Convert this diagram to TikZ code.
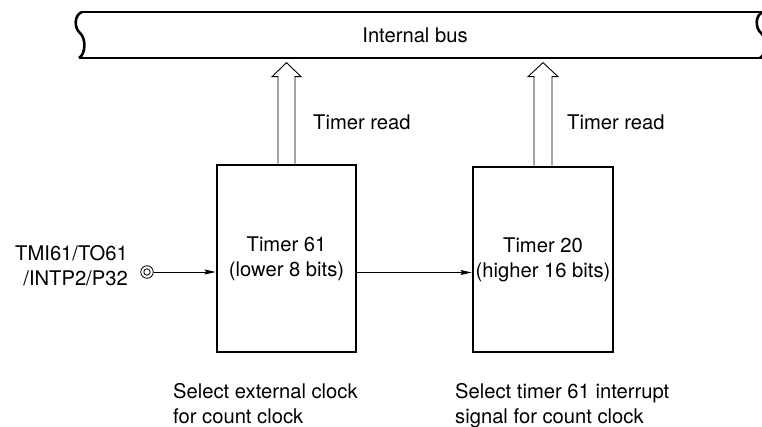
\documentclass[tikz,border=0pt]{standalone}
\usepackage{fontspec}
\setmainfont{TeX Gyre Heros}
\usetikzlibrary{arrows.meta,positioning}

\tikzset{
  lbl/.style={font=\fontsize{20.2}{25}\selectfont, inner sep=0pt},
  timerbox/.style={draw, line width=2.7pt, minimum width=139pt, align=center, lbl},
  hollow/.style={draw, line width=0.9pt, line join=miter},
  sig/.style={line width=0.9pt, -{Stealth[length=11pt, width=5pt, inset=1.5pt]}},
}

\begin{document}
\begin{tikzpicture}[x=1pt, y=-1pt]
        \useasboundingbox (0,0) rectangle (762,427);

        % Internal bus
        \draw[line width=2.6pt] (82,12) -- (775,12);
        \draw[line width=2.6pt] (79,58) -- (775,58);
        \draw[line width=2.6pt] (82,12) .. controls (74,15) and (74,28) .. (80,33)
            .. controls (86,38) and (86,54) .. (79,58);
        \draw[line width=2.6pt] (763,12) .. controls (755,15) and (755,28) .. (761,33)
            .. controls (767,38) and (767,54) .. (760,58);
        \node[lbl] (bus) at (415,35) {Internal bus};

        % Timers
        \node[timerbox, minimum height=187pt] (t61) at (286.5,258.5) {Timer 61\\(lower 8 bits)};
        \node[timerbox, minimum height=185pt, minimum width=140pt] (t20) at (543,259.5) {Timer 20\\(higher 16 bits)};

        % Timer read
        \draw[hollow] ([xshift=-8.5pt]t61.north) -- ++(0,-87) -- ++(-6,0) -- ++(14.5,-14)
            -- ++(14.5,14) -- ++(-6,0) -- ++(0,87);
        \draw[hollow] ([xshift=-9pt]t20.north) -- ++(0,-89) -- ++(-6,0) -- ++(15,-14)
            -- ++(15,14) -- ++(-6,0) -- ++(0,89);
        \node[lbl, anchor=base west] (rd61) at (313,130) {Timer read};
        \node[lbl, anchor=base west] (rd20) at (567,130) {Timer read};

        % Input pin
        \node[circle, draw, line width=0.8pt, minimum size=12.5pt, inner sep=0pt] (pin) at (147,272) {};
        \draw[line width=0.8pt] (pin.center) circle (3.2pt);
        \node[lbl, align=right, anchor=east] (pinname) at (128,266) {TMI61/TO61\\/INTP2/P32};
        \draw[sig] (pin) -- (pin -| t61.west);

        % Count clock
        \coordinate (carry) at ([yshift=-14pt]t61.east);
        \draw[sig] (carry) -- (carry -| t20.west);

        % Notes
        \node[lbl, align=left, anchor=base west] (note61) at (173,423) {Select external clock\\for count clock};
        \node[lbl, align=left, anchor=base west] (note20) at (455,423) {Select timer 61 interrupt\\signal for count clock};
\end{tikzpicture}
\end{document}
